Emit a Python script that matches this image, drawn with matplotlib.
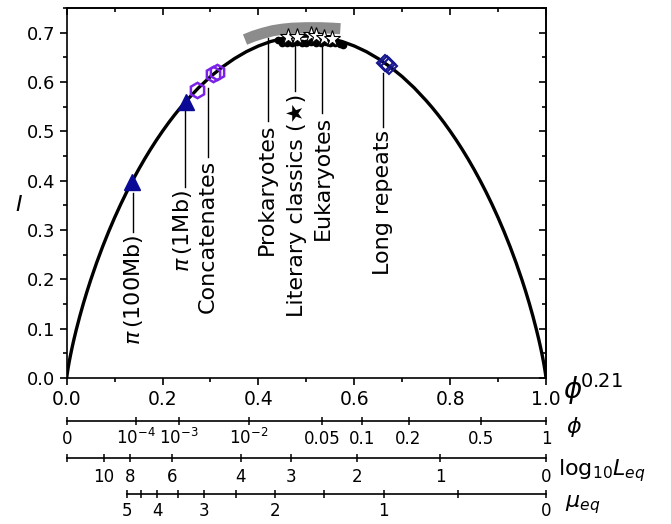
import matplotlib
matplotlib.use("Agg")
import matplotlib.pyplot as plt
from matplotlib.ticker import MultipleLocator

plt.rcParams['font.family'] = ['DejaVu Sans']
plt.rcParams['mathtext.fontset'] = 'dejavusans'

# ---------------- data ----------------
curve_x = [0.0, 0.0005, 0.001, 0.002, 0.0035, 0.005, 0.0075, 0.01, 0.0125, 0.015, 0.02,
           0.0275, 0.035, 0.0425, 0.05, 0.0625, 0.075, 0.0875, 0.1, 0.1125, 0.125, 0.1375,
           0.15, 0.1625, 0.175, 0.1875, 0.2, 0.2125, 0.225, 0.2375, 0.25, 0.275, 0.3, 0.325,
           0.35, 0.375, 0.4, 0.425, 0.45, 0.475, 0.5,
           0.525, 0.55, 0.575, 0.6, 0.625, 0.65, 0.675, 0.7, 0.725, 0.75, 0.7625, 0.775,
           0.7875, 0.8, 0.8125, 0.825, 0.8375, 0.85, 0.8625, 0.875, 0.8875, 0.9, 0.9125,
           0.925, 0.9375, 0.95, 0.9575, 0.965, 0.9725, 0.98, 0.985, 0.9875, 0.99, 0.9925,
           0.995, 0.9965, 0.998, 0.999, 0.9995, 1.0]
curve_y = [0.0, 0.0043, 0.0079, 0.0144, 0.0233, 0.0315, 0.0442, 0.0560, 0.0672, 0.0779, 0.0980,
           0.1259, 0.1517, 0.1758, 0.1985, 0.2338, 0.2664, 0.2967, 0.3251, 0.3517, 0.3768, 0.4004,
           0.4227, 0.4438, 0.4637, 0.4826, 0.5004, 0.5173, 0.5332, 0.5482, 0.5623, 0.5882, 0.6109, 0.6306,
           0.6474, 0.6616, 0.6730, 0.6819, 0.6881, 0.6919, 0.6931,
           0.6919, 0.6881, 0.6819, 0.6730, 0.6616, 0.6474, 0.6306, 0.6109, 0.5882, 0.5623, 0.5482, 0.5332,
           0.5173, 0.5004, 0.4826, 0.4637, 0.4438, 0.4227, 0.4004, 0.3768, 0.3517, 0.3251, 0.2967,
           0.2664, 0.2338, 0.1985, 0.1758, 0.1517, 0.1259, 0.0980, 0.0779, 0.0672, 0.0560, 0.0442,
           0.0315, 0.0233, 0.0144, 0.0079, 0.0043, 0.0]

pi_x = [0.137, 0.249]
pi_y = [0.398, 0.560]

concat_x = [0.272, 0.306, 0.313]
concat_y = [0.584, 0.616, 0.621]

longrep_x = [0.664, 0.668, 0.672]
longrep_y = [0.638, 0.636, 0.633]

prok_x = [0.372, 0.39, 0.41, 0.43, 0.45, 0.47, 0.50, 0.53, 0.555, 0.571]
prok_y = [0.686, 0.693, 0.699, 0.704, 0.707, 0.709, 0.710, 0.710, 0.709, 0.708]

euk_x = [0.441, 0.45, 0.46, 0.47, 0.48, 0.49, 0.50, 0.51, 0.52, 0.53, 0.54, 0.55, 0.56, 0.57, 0.577]
euk_y = [0.685, 0.680, 0.679, 0.680, 0.681, 0.679, 0.680, 0.681, 0.680, 0.679, 0.682, 0.680, 0.679, 0.678, 0.676]

lit_x = [0.462, 0.480, 0.510, 0.520, 0.537, 0.554]
lit_y = [0.692, 0.692, 0.696, 0.693, 0.690, 0.688]

# annotations: label, line x, line top, line bottom, text x, text top
ann_labels = [r'$\pi\,$(100Mb)', r'$\pi\,$(1Mb)', 'Concatenates', 'Prokaryotes',
              'Literary classics (\u2605)', 'Eukaryotes', 'Long repeats']
ann_line_x = [0.139, 0.247, 0.295, 0.420, 0.477, 0.532, 0.660]
ann_line_top = [0.375, 0.548, 0.588, 0.690, 0.680, 0.677, 0.619]
ann_line_bot = [0.296, 0.387, 0.448, 0.521, 0.582, 0.538, 0.509]
ann_text_x = [0.139, 0.241, 0.295, 0.418, 0.481, 0.535, 0.660]
ann_text_top = [0.290, 0.381, 0.442, 0.515, 0.576, 0.531, 0.503]

# secondary scales (tick positions in phi^0.21 units)
phi_values = [0, 1e-4, 1e-3, 1e-2, 0.05, 0.1, 0.2, 0.5, 1]
phi_labels = ['0', r'$10^{-4}$', r'$10^{-3}$', r'$10^{-2}$', '0.05', '0.1', '0.2', '0.5', '1']

logL_pos = [0.0, 0.078, 0.132, 0.219, 0.363, 0.468, 0.605, 0.779, 1.0]
logL_labels = ['', '10', '8', '6', '4', '3', '2', '1', '0']

mu_pos = [0.125, 0.154, 0.189, 0.232, 0.287, 0.353, 0.435, 0.537, 0.661, 0.816, 1.0]
mu_labels = ['5', '', '4', '', '3', '', '2', '', '1', '', '0']

# ---------------- figure ----------------
W, H = 671, 524
fig = plt.figure(figsize=(W / 100, H / 100), dpi=100)

def fx(px):
    return px / W

def fy(py):
    return 1 - py / H

x0, x1 = 66.7, 546.0
ax = fig.add_axes([fx(x0), fy(378), fx(x1 - x0), (378 - 8) / H])
ax.set_xlim(0, 1)
ax.set_ylim(0, 0.75)

for s in ax.spines.values():
    s.set_linewidth(1.2)

ax.xaxis.set_major_locator(MultipleLocator(0.2))
ax.xaxis.set_minor_locator(MultipleLocator(0.1))
ax.yaxis.set_major_locator(MultipleLocator(0.1))
ax.yaxis.set_minor_locator(MultipleLocator(0.05))
ax.tick_params(which='both', direction='out', width=1.2, top=False, right=False)
ax.tick_params(which='major', length=4.8)
ax.tick_params(which='minor', length=2.6)
ax.tick_params(axis='x', labelsize=13.5, pad=4)
ax.tick_params(axis='y', labelsize=13, pad=3.5)
ax.xaxis.set_major_formatter(plt.FuncFormatter(lambda v, p: f'{v:.1f}'))
ax.yaxis.set_major_formatter(plt.FuncFormatter(lambda v, p: f'{v:.1f}'))

sx = ax.secondary_xaxis('top')
sx.xaxis.set_major_locator(MultipleLocator(0.2))
sx.xaxis.set_minor_locator(MultipleLocator(0.1))
sx.tick_params(which='both', direction='in', width=1.2, labeltop=False)
sx.tick_params(which='major', length=4.8)
sx.tick_params(which='minor', length=2.6)
sy = ax.secondary_yaxis('right')
sy.yaxis.set_major_locator(MultipleLocator(0.1))
sy.yaxis.set_minor_locator(MultipleLocator(0.05))
sy.tick_params(which='both', direction='in', width=1.2, labelright=False)
sy.tick_params(which='major', length=4.8)
sy.tick_params(which='minor', length=2.6)
for s in list(sx.spines.values()) + list(sy.spines.values()):
    s.set_linewidth(1.2)

# marks
ax.plot(prok_x, prok_y, color='#8c8c8c', lw=8, solid_capstyle='butt', zorder=1)
ax.plot(curve_x, curve_y, color='black', lw=2.4, zorder=2, solid_joinstyle='round')
ax.plot(euk_x, euk_y, 'o', color='black', ms=4.5, zorder=3)
ax.plot(lit_x, lit_y, '*', mfc='white', mec='black', mew=0.8, ms=12.5, zorder=4)
ax.plot(pi_x, pi_y, '^', color='#0a0a96', ms=11.5, zorder=4)
ax.plot(concat_x, concat_y, 'h', mfc='none', mec='#7a22e6', mew=1.8, ms=11, zorder=4)
ax.plot(longrep_x, longrep_y, 'D', mfc='none', mec='#16168e', mew=1.5, ms=8, zorder=4)

for lab, lx, lt, lb, tx, tt in zip(ann_labels, ann_line_x, ann_line_top, ann_line_bot,
                                   ann_text_x, ann_text_top):
    ax.plot([lx, lx], [lt, lb], color='black', lw=1.0, zorder=3)
    ax.text(tx, tt, lab, rotation=90, ha='center', va='top', fontsize=16,
            family=['DejaVu Sans'])

# axis labels
fig.text(fx(19), fy(205), r'$I$', fontsize=16, ha='center', va='center')
fig.text(fx(563), fy(389), r'$\phi^{\!0.21}$', fontsize=20, ha='left', va='center')
fig.text(fx(566), fy(427), r'$\phi$', fontsize=16, ha='left', va='center')
fig.text(fx(558), fy(471), r'$\mathrm{log}_{10}L_{eq}$', fontsize=16, ha='left', va='center')
fig.text(fx(565), fy(505), r'$\mu_{eq}$', fontsize=16, ha='left', va='center')

# secondary scales
def scale_axis(ypx, pos, labels, start, base_off, fsize):
    a = fig.add_axes([fx(x0), fy(ypx), fx(x1 - x0), 0.0001])
    a.set_facecolor('none')
    a.set_xlim(0, 1)
    a.set_yticks([])
    for k in ('top', 'left', 'right'):
        a.spines[k].set_visible(False)
    a.spines['bottom'].set_linewidth(1.2)
    a.spines['bottom'].set_bounds(start, 1.0)
    a.set_xticks(pos)
    a.set_xticklabels([''] * len(pos))
    a.tick_params(axis='x', direction='inout', length=6, width=1.1)
    for p, l in zip(pos, labels):
        if l:
            a.annotate(l, xy=(p, 0), xycoords=('data', 'axes fraction'),
                       xytext=(0, base_off), textcoords='offset points',
                       ha='center', va='baseline', fontsize=fsize)
    return a

phi_pos = [v ** 0.21 for v in phi_values]
scale_axis(421, phi_pos, phi_labels, 0.0, -16.6, 12)
scale_axis(458.3, logL_pos, logL_labels, 0.0, -16.8, 12)
scale_axis(494.3, mu_pos, mu_labels, 0.125, -15.6, 12)

fig.savefig('out.png', dpi=100)
